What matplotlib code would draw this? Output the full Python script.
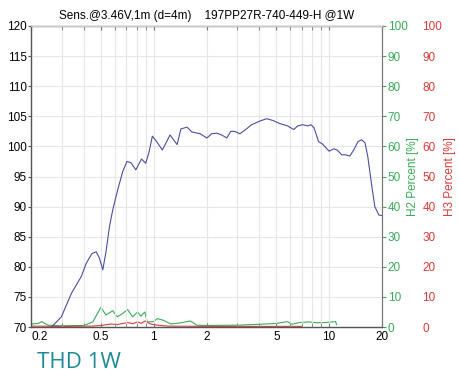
import numpy as np
import matplotlib
matplotlib.use('Agg')
import matplotlib.pyplot as plt
from matplotlib.ticker import FixedLocator, NullFormatter, LogLocator

plt.rcParams['font.family'] = ['Liberation Sans', 'DejaVu Sans']

# SPL curve (Hz in kHz, dB)
spl_freq = [0.262, 0.298, 0.34, 0.387, 0.413, 0.445, 0.47, 0.49, 0.513, 0.535,
            0.56, 0.584, 0.624, 0.666, 0.704, 0.742, 0.791, 0.852, 0.901, 0.94,
            0.983, 1.04, 1.12, 1.24, 1.36, 1.43, 1.55, 1.65, 1.84, 2.01,
            2.14, 2.29, 2.44, 2.61, 2.75, 2.9, 3.1, 3.31, 3.61, 4.02,
            4.4, 4.79, 5.22, 5.8, 6.28, 6.62, 7.07, 7.56, 7.88, 8.2,
            8.7, 9.16, 10.0, 10.6, 11.1, 11.8, 12.4, 13.1, 13.8, 14.6,
            15.3, 16.0, 16.6, 17.4, 18.2, 19.2, 20.0]
spl_db = [70, 71.7, 75.6, 78.4, 80.6, 82.2, 82.5, 81.5, 79.5, 82.5,
          86.7, 89.4, 92.8, 95.8, 97.5, 97.3, 96.1, 97.9, 97.2, 99.0,
          101.7, 100.8, 99.4, 101.9, 100.3, 102.9, 103.2, 102.4, 102.1, 101.4,
          102.1, 102.2, 101.9, 101.4, 102.5, 102.5, 102.1, 102.7, 103.6, 104.2,
          104.6, 104.3, 103.8, 103.4, 102.8, 103.4, 103.6, 103.4, 103.6, 103.1,
          100.8, 100.4, 99.2, 99.6, 99.4, 98.6, 98.6, 98.4, 99.4, 100.8,
          101.1, 100.6, 98.3, 93.9, 90.0, 88.6, 88.5]

# 2nd harmonic distortion (%)
h2_freq = [0.2, 0.22, 0.23, 0.25, 0.3, 0.4, 0.45, 0.5, 0.535, 0.585,
           0.62, 0.666, 0.71, 0.758, 0.81, 0.845, 0.89, 0.92, 1.0, 1.05,
           1.14, 1.25, 1.4, 1.62, 1.76, 2.0, 3.0, 4.0, 5.0, 5.8,
           6.1, 6.8, 7.7, 8.5, 9.6, 10.9, 11.0]
h2_pct = [1.0, 1.2, 1.8, 0.6, 0.4, 0.5, 1.7, 6.5, 4.0, 5.4,
          3.4, 4.5, 5.8, 3.4, 5.0, 3.6, 5.0, 1.7, 1.8, 2.8,
          2.2, 1.0, 1.3, 2.0, 0.6, 0.5, 0.6, 0.9, 1.2, 1.8,
          0.9, 1.5, 1.7, 1.4, 1.5, 1.8, 0.8]

# 3rd harmonic distortion (%)
h3_freq = [0.2, 0.3, 0.45, 0.5, 0.57, 0.62, 0.71, 0.76, 0.81, 0.85,
           0.89, 0.96, 1.05, 1.2, 2.0, 4.0, 7.0]
h3_pct = [0.3, 0.2, 0.3, 0.5, 1.0, 0.8, 1.5, 1.1, 1.7, 1.2,
          2.0, 1.0, 0.6, 0.3, 0.2, 0.2, 0.2]

xticks = [0.2, 0.5, 1, 2, 5, 10, 20]
xtick_labels = ['0.2', '0.5', '1', '2', '5', '10', '20']

green = '#3aaa5a'
red = '#d83a3a'
blue = '#4a4f9e'
grid_c = '#e6e6e6'

fig = plt.figure(figsize=(4.59, 3.72), dpi=100)
ax = fig.add_axes([31 / 459, 45 / 372, 351 / 459, 301 / 372])

ax.set_xscale('log')
ax.set_xlim(0.2, 20)
ax.set_ylim(70, 120)
ax.xaxis.set_major_locator(FixedLocator(xticks))
ax.set_xticklabels(xtick_labels)
ax.xaxis.set_minor_locator(LogLocator(base=10, subs=np.arange(2, 10)))
ax.xaxis.set_minor_formatter(NullFormatter())
ax.set_yticks(np.arange(70, 121, 5))
ax.grid(True, which='both', axis='x', color=grid_c, lw=0.8)
ax.grid(True, which='major', axis='y', color=grid_c, lw=0.8)
ax.tick_params(axis='x', which='both', direction='in', top=True, length=3,
               color='#777777', labelsize=8.5, pad=3)
ax.tick_params(axis='y', direction='out', length=2, color='#555555',
               labelsize=8.5, pad=1)
ax.get_xticklabels()[0].set_horizontalalignment('left')
for s in ['left', 'bottom']:
    ax.spines[s].set_color('#555555')
ax.spines['top'].set_color('#cccccc')
ax.spines['right'].set_color('#777777')

ax.set_title('Sens.@3.46V,1m (d=4m)    197PP27R-740-449-H @1W',
             fontsize=8.5, pad=5)

ax2 = ax.twinx()
ax2.set_ylim(0, 100)
ax2.set_yticks(np.arange(0, 101, 10))
ax2.tick_params(axis='y', colors=green, length=3, direction='out',
                labelsize=8.5, pad=1)
ax2.spines['right'].set_color('#777777')
ax2.set_ylabel('H2 Percent [%]', color=green, fontsize=8.5, labelpad=0)

ax3 = ax.twinx()
ax3.set_ylim(0, 100)
ax3.set_yticks(np.arange(0, 101, 10))
ax3.spines['right'].set_position(('axes', 1.115))
ax3.spines['right'].set_visible(False)
ax3.tick_params(axis='y', colors=red, length=0, labelsize=8.5, pad=0)
ax3.set_ylabel('H3 Percent [%]', color=red, fontsize=8.5, labelpad=1)

ax3.plot(h3_freq, h3_pct, color=red, lw=0.8)
ax2.plot(h2_freq, h2_pct, color=green, lw=0.8)
ax.plot(spl_freq, spl_db, color=blue, lw=0.8, zorder=5)
ax.set_zorder(3)
ax.patch.set_visible(False)

fig.text(37 / 459, 4 / 372, 'THD 1W', color='#1f8a96', fontsize=16,
         family=['Open Sans', 'DejaVu Sans'], va='baseline')

fig.savefig('out.png', dpi=100)
